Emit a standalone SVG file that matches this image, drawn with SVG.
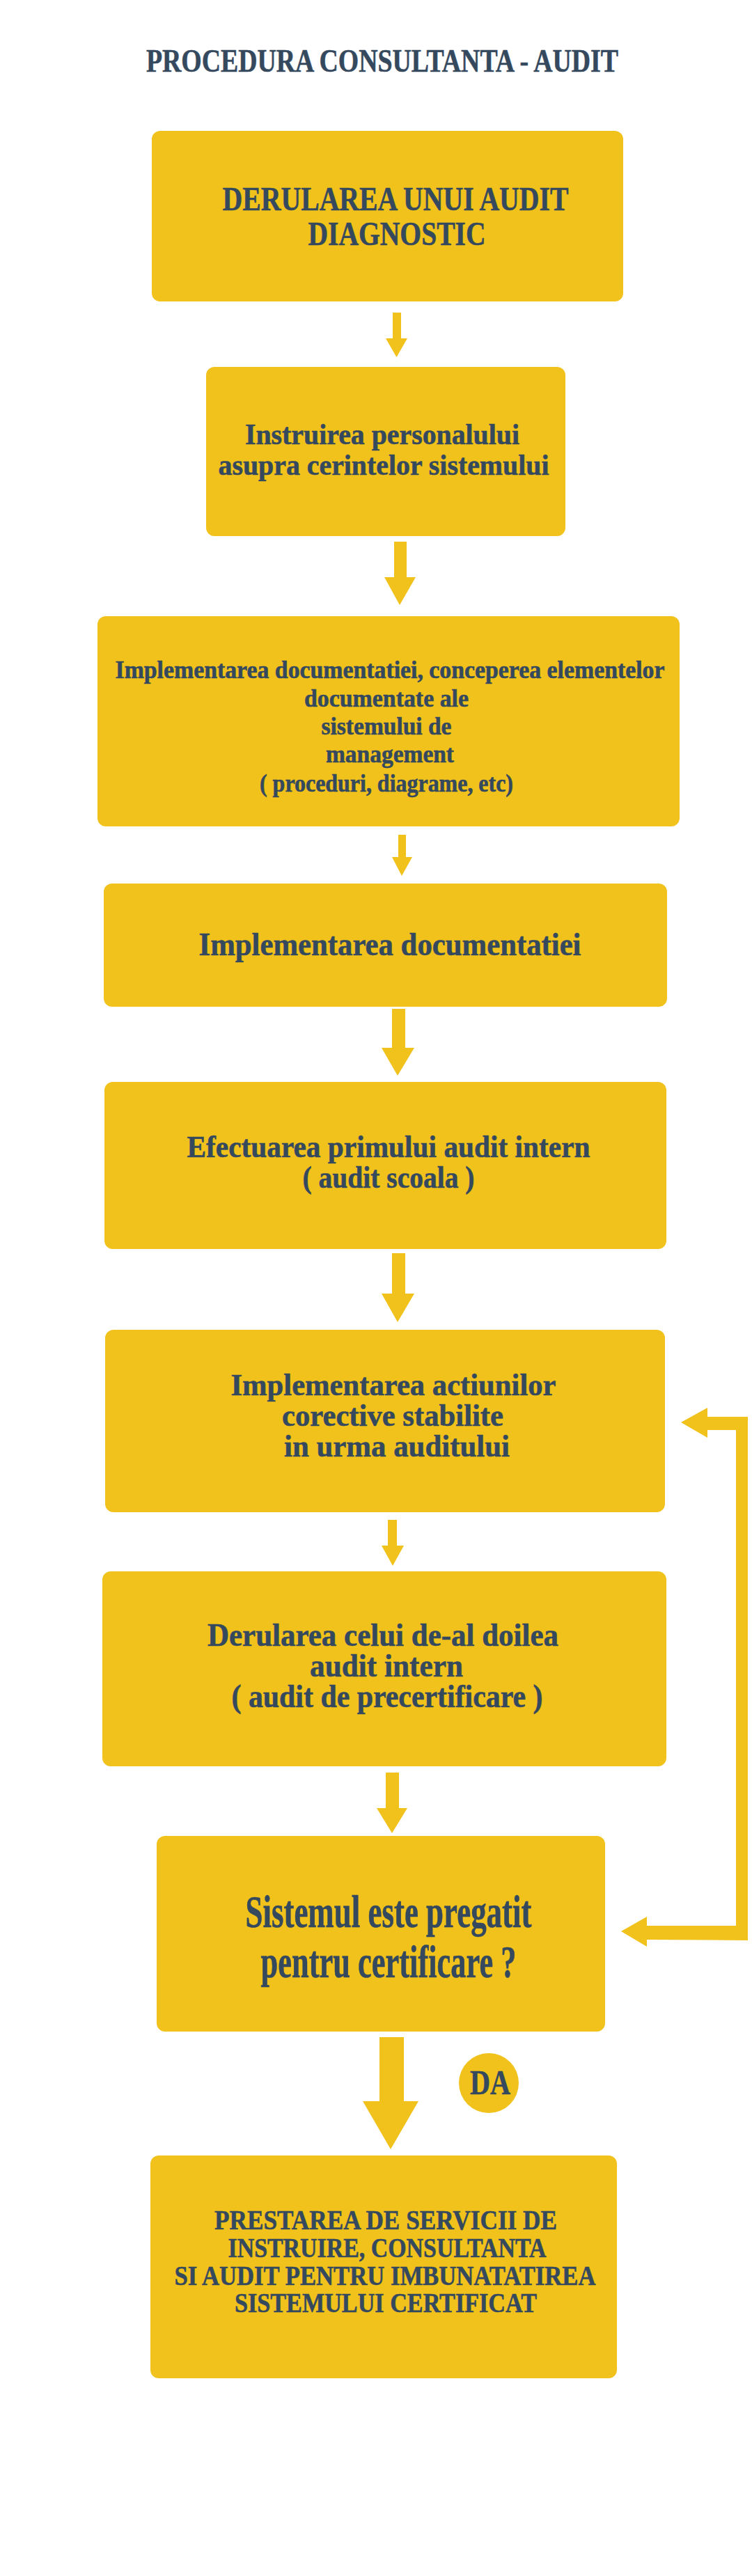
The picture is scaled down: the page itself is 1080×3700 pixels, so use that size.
<svg xmlns="http://www.w3.org/2000/svg" width="1080" height="3700" viewBox="0 0 1080 3700">
<style>
.box{fill:#F1C21B}
.arr{fill:#F1C21B}
text{font-family:"Liberation Serif","DejaVu Serif",serif;font-weight:700;fill:#35495E;text-anchor:middle;stroke:#35495E;stroke-width:0.6}
</style>
<rect width="1080" height="3700" fill="#FFFFFF"/>
<g id="title">
<text x="549" y="103" font-size="46" textLength="678" lengthAdjust="spacingAndGlyphs">PROCEDURA CONSULTANTA - AUDIT</text>
</g>
<g id="connectors">
<polygon class="arr" points="564,449 576,449 576,486 585,486 569.5,513 554,486 564,486"/>
<polygon class="arr" points="566,778 584,778 584,829 597,829 574,869 552,829 566,829"/>
<polygon class="arr" points="572,1199 583,1199 583,1231 592,1231 577,1258 563,1231 572,1231"/>
<polygon class="arr" points="563,1449 582,1449 582,1505 595,1505 571,1545 548,1505 563,1505"/>
<polygon class="arr" points="563,1800 582,1800 582,1858 595,1858 571,1899 548,1858 563,1858"/>
<polygon class="arr" points="557,2183 570,2183 570,2220 580,2220 564,2249 548,2220 557,2220"/>
<polygon class="arr" points="554,2546 573,2546 573,2597 585,2597 563,2633 541,2597 554,2597"/>
<polygon class="arr" points="545,2926 580,2926 580,3018 601,3018 561,3087 521,3018 545,3018"/>
<polygon class="arr" points="1074,2035 1074,2787 929,2786 929,2796 892,2774 929,2753 929,2766 1057,2766 1057,2054 1016,2054 1016,2065 978,2043 1016,2022 1016,2035"/>
</g>
<g id="n1">
<rect class="box" x="218" y="188" width="677" height="245" rx="12"/>
<text x="568" y="302" font-size="49" textLength="497" lengthAdjust="spacingAndGlyphs">DERULAREA UNUI AUDIT</text>
<text x="570" y="352" font-size="49" textLength="255" lengthAdjust="spacingAndGlyphs">DIAGNOSTIC</text>
</g>
<g id="n2">
<rect class="box" x="296" y="527" width="516" height="243" rx="12"/>
<text x="549" y="638" font-size="42" textLength="394" lengthAdjust="spacingAndGlyphs">Instruirea personalului</text>
<text x="551" y="682" font-size="42" textLength="475" lengthAdjust="spacingAndGlyphs">asupra cerintelor sistemului</text>
</g>
<g id="n3">
<rect class="box" x="140" y="885" width="836" height="302" rx="12"/>
<text x="560" y="974" font-size="35" textLength="789" lengthAdjust="spacingAndGlyphs">Implementarea documentatiei, conceperea elementelor</text>
<text x="555" y="1015" font-size="35" textLength="236" lengthAdjust="spacingAndGlyphs">documentate ale</text>
<text x="555" y="1055" font-size="35" textLength="187" lengthAdjust="spacingAndGlyphs">sistemului de</text>
<text x="560" y="1095" font-size="35" textLength="184" lengthAdjust="spacingAndGlyphs">management</text>
<text x="555" y="1137" font-size="35" textLength="364" lengthAdjust="spacingAndGlyphs">( proceduri, diagrame, etc)</text>
</g>
<g id="n4">
<rect class="box" x="149" y="1269" width="809" height="177" rx="12"/>
<text x="560" y="1372" font-size="47" textLength="549" lengthAdjust="spacingAndGlyphs">Implementarea documentatiei</text>
</g>
<g id="n5">
<rect class="box" x="150" y="1554" width="807" height="240" rx="12"/>
<text x="558" y="1662" font-size="45" textLength="579" lengthAdjust="spacingAndGlyphs">Efectuarea primului audit intern</text>
<text x="558" y="1706" font-size="45" textLength="247" lengthAdjust="spacingAndGlyphs">( audit scoala )</text>
</g>
<g id="n6">
<rect class="box" x="151" y="1910" width="804" height="262" rx="12"/>
<text x="565" y="2004" font-size="45" textLength="467" lengthAdjust="spacingAndGlyphs">Implementarea actiunilor</text>
<text x="564" y="2048" font-size="45" textLength="318" lengthAdjust="spacingAndGlyphs">corective stabilite</text>
<text x="570" y="2092" font-size="45" textLength="324" lengthAdjust="spacingAndGlyphs">in urma auditului</text>
</g>
<g id="n7">
<rect class="box" x="147" y="2257" width="810" height="280" rx="12"/>
<text x="550" y="2364" font-size="46" textLength="504" lengthAdjust="spacingAndGlyphs">Derularea celui de-al doilea</text>
<text x="555" y="2408" font-size="46" textLength="220" lengthAdjust="spacingAndGlyphs">audit intern</text>
<text x="556" y="2452" font-size="46" textLength="447" lengthAdjust="spacingAndGlyphs">( audit de precertificare )</text>
</g>
<g id="n8">
<rect class="box" x="225" y="2637" width="644" height="281" rx="12"/>
<text x="558" y="2768" font-size="66" textLength="411" lengthAdjust="spacingAndGlyphs">Sistemul este pregatit</text>
<text x="558" y="2840" font-size="66" textLength="367" lengthAdjust="spacingAndGlyphs">pentru certificare ?</text>
</g>
<g id="da">
<circle class="box" cx="702" cy="2992" r="43"/>
<text x="704" y="3008" font-size="50" textLength="58" lengthAdjust="spacingAndGlyphs">DA</text>
</g>
<g id="n9">
<rect class="box" x="216" y="3096" width="670" height="320" rx="12"/>
<text x="554" y="3202" font-size="39" textLength="492" lengthAdjust="spacingAndGlyphs">PRESTAREA DE SERVICII DE</text>
<text x="556" y="3242" font-size="39" textLength="457" lengthAdjust="spacingAndGlyphs">INSTRUIRE, CONSULTANTA</text>
<text x="553" y="3282" font-size="39" textLength="605" lengthAdjust="spacingAndGlyphs">SI AUDIT PENTRU IMBUNATATIREA</text>
<text x="554" y="3321" font-size="39" textLength="434" lengthAdjust="spacingAndGlyphs">SISTEMULUI CERTIFICAT</text>
</g>
</svg>
